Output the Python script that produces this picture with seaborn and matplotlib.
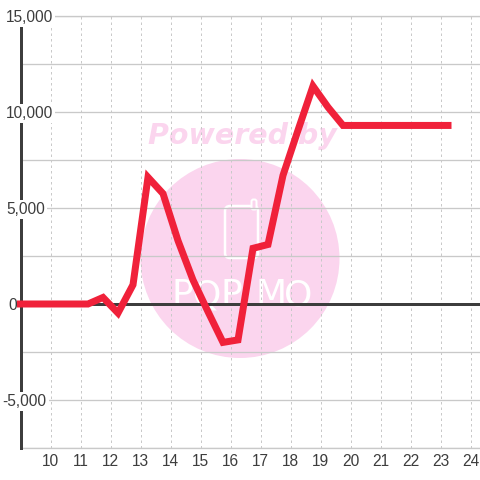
import matplotlib
matplotlib.use('Agg')
import matplotlib.pyplot as plt
from matplotlib.patches import Circle, FancyBboxPatch
from matplotlib.transforms import IdentityTransform, blended_transform_factory, ScaledTranslation
import pandas as pd
import seaborn as sns

# data
hours = [9.0, 9.25, 9.75, 10.25, 10.75, 11.25, 11.75, 12.25, 12.75, 13.25, 13.75, 14.25, 14.75,
         15.25, 15.75, 16.25, 16.75, 17.25, 17.75, 18.25, 18.75, 19.25, 19.75, 20.25, 20.75,
         21.25, 21.75, 22.25, 22.75, 23.25]
values = [0, 0, 0, 0, 0, 0, 340, -470, 1000, 6600, 5750, 3300, 1250,
          -400, -2000, -1870, 2900, 3100, 6700, 9050, 11350, 10250, 9300, 9300, 9300,
          9300, 9300, 9300, 9300, 9300]
x_ticks = list(range(10, 25))
y_major = [-5000, 0, 5000, 10000, 15000]
y_minor = [-7500, -2500, 2500, 7500, 12500]
y_labels = ['-5,000', '0', '5,000', '10,000', '15,000']
y_label_left = [2.5, 8, 6, 6, 6]
logo_letters = ['P', 'Q', 'P', 'M', 'O']
logo_centres = [182, 207, 231, 271, 298]

PX = 72 / 100  # points per pixel
RED = '#f0213a'
DARK = '#3d3d3d'
PINK = '#fbd5ee'
GRID = '#c9c9c9'

sns.set_theme(style='white')
plt.rcParams['font.family'] = ['Liberation Sans', 'DejaVu Sans']

df = pd.DataFrame({'hour': hours, 'value': values})

fig = plt.figure(figsize=(4.8, 4.8), dpi=100)
ax = fig.add_axes([20.5 / 480, 32 / 480, 459.5 / 480, 432 / 480])
ax.set_xlim(9, 9 + 459.5 / 30)
ax.set_ylim(-7500, 15000)
ax.set_axisbelow(True)

# watermark, placed in pixels from the top left
def py(y):
    return 480 - y

pix = IdentityTransform()
ax.add_patch(Circle((240, py(258.5)), 99.5, transform=pix, fc=PINK, ec='none', zorder=0.1))
ax.add_patch(FancyBboxPatch((229, py(254)), 25, 44, boxstyle='round,pad=4,rounding_size=5', transform=pix,
                            fc='none', ec='white', lw=2.5 * PX, zorder=0.2))
ax.add_patch(FancyBboxPatch((253, py(208)), 2, 7, boxstyle='round,pad=1.5,rounding_size=2', transform=pix,
                            fc=PINK, ec='white', lw=2 * PX, zorder=0.2))
ax.text(148, py(144), 'Powered by', transform=pix, color=PINK, fontsize=20.5, fontweight='bold', style='italic',
        family='DejaVu Sans', va='baseline', ha='left', zorder=0.2)
for letter, cx in zip(logo_letters, logo_centres):
    ax.text(cx, py(305), letter, transform=pix, color='white', fontsize=26, family='DejaVu Sans',
            va='baseline', ha='center', zorder=0.2)

# grid
ax.set_yticks(y_major)
ax.set_yticks(y_minor, minor=True)
ax.set_xticks(x_ticks)
ax.grid(axis='y', which='both', color=GRID, lw=1.3 * PX)
ax.grid(axis='x', color=GRID, lw=1 * PX, linestyle=(0, (2.5, 3)))
ax.tick_params(axis='both', which='both', length=0)
ax.tick_params(axis='x', labelsize=15.5 * PX, labelcolor=DARK, pad=4.5)
ax.set_yticklabels([])

for s in ['top', 'right', 'bottom']:
    ax.spines[s].set_visible(False)
ax.spines['left'].set_color(DARK)
ax.spines['left'].set_linewidth(3 * PX)
ax.axhline(0, color=DARK, lw=3 * PX, zorder=1.5)
ax.axhline(15000, color=GRID, lw=1.3 * PX, zorder=1, clip_on=False)
ax.axhline(-7500, color=GRID, lw=1.3 * PX, zorder=1, clip_on=False)

sns.lineplot(data=df, x='hour', y='value', ax=ax, color=RED, lw=7 * PX, estimator=None, sort=False,
             solid_capstyle='projecting', solid_joinstyle='miter', clip_on=False, zorder=6)
ax.set_xlabel('')
ax.set_ylabel('')

# y labels have a white box that cuts the axis line
trans = blended_transform_factory(pix, ax.transData)
shift = ScaledTranslation(0, -1.5 / 100, fig.dpi_scale_trans)
for v, lab, left in zip(y_major, y_labels, y_label_left):
    ax.text(left, v, lab, transform=trans + shift, ha='left', va='center', fontsize=15.5 * PX, color=DARK, zorder=5,
            bbox=dict(fc='white', ec='none', pad=1.6), clip_on=False)

fig.savefig('out.png', dpi=100)
